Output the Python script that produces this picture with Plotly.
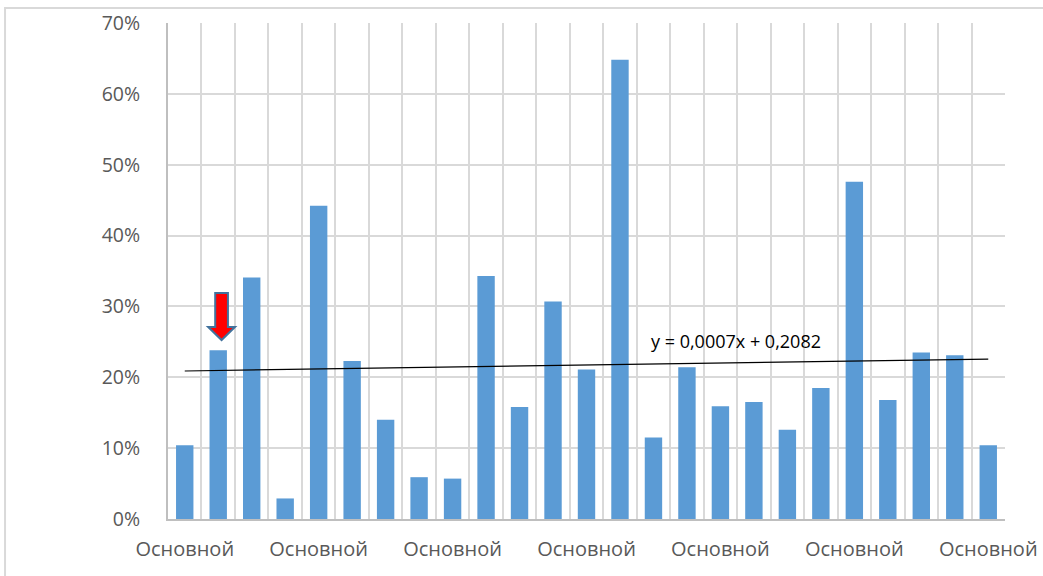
import plotly.graph_objects as go

# ---- data ----
categories = list(range(1, 26))
category_label = "Основной"
values = [0.104, 0.238, 0.341, 0.029, 0.442, 0.223, 0.140, 0.059, 0.057, 0.343,
          0.158, 0.307, 0.211, 0.648, 0.115, 0.214, 0.159, 0.165, 0.126, 0.185,
          0.476, 0.168, 0.235, 0.231, 0.104]
trend_slope = 0.0007
trend_intercept = 0.2082
trend_text = "y = 0,0007x + 0,2082"
y_ticks = [0, 0.1, 0.2, 0.3, 0.4, 0.5, 0.6, 0.7]
highlight_index = 2  # category marked by the red arrow

BAR = "#5b9bd5"
GRID = "#d9d9d9"
TXT = "#595959"
FONT = "Open Sans"

fig = go.Figure()
fig.add_trace(go.Bar(x=categories, y=values, marker=dict(color=BAR, line=dict(width=0)),
                     width=0.52, showlegend=False, hoverinfo="y"))

trend_y = [trend_slope * c + trend_intercept for c in categories]
fig.add_trace(go.Scatter(x=[categories[0], categories[-1]], y=[trend_y[0], trend_y[-1]],
                         mode="lines", line=dict(color="black", width=1.2),
                         showlegend=False, hoverinfo="skip"))

fig.add_annotation(x=17.47, y=0.251, xref="x", yref="y", text=trend_text, showarrow=False,
                   font=dict(family=FONT, size=18, color="black"))

# red block arrow above highlighted bar
cx = highlight_index + 0.1
sw, hw = 0.19, 0.40
y_top, y_base, y_tip = 0.319, 0.271, 0.2526
path = (f"M {cx-sw},{y_top} L {cx+sw},{y_top} L {cx+sw},{y_base} L {cx+hw},{y_base} "
        f"L {cx},{y_tip} L {cx-hw},{y_base} L {cx-sw},{y_base} Z")
fig.add_shape(type="path", path=path, xref="x", yref="y", fillcolor="#ff0000",
              line=dict(color="#41719c", width=2))

# chart-area border
fig.add_shape(type="rect", xref="paper", yref="paper", x0=-0.1947, x1=1.2, y0=-0.2, y1=1.0302,
              line=dict(color=GRID, width=2), fillcolor="rgba(0,0,0,0)", layer="below")

tick_positions = categories[::4]
fig.update_layout(
    width=1043, height=576,
    margin=dict(l=168, r=38, t=23, b=57),
    paper_bgcolor="white", plot_bgcolor="white",
    font=dict(family=FONT, color=TXT),
    bargap=0.48,
    xaxis=dict(range=[0.5, 25.5], tickmode="array", tickvals=tick_positions,
               ticktext=[category_label] * len(tick_positions), automargin=False,
               showgrid=False, zeroline=False, showline=True, linecolor="#bfbfbf", linewidth=2,
               ticks="", tickfont=dict(size=20, color=TXT), ticklabelstandoff=11,
               minor=dict(tickvals=[c + 0.5 for c in categories], showgrid=True,
                          gridcolor=GRID, gridwidth=2, ticks="")),
    yaxis=dict(range=[0, 0.7], tickvals=y_ticks, tickformat=".0%", showgrid=True,
               gridcolor=GRID, gridwidth=2, zeroline=False, showline=True, automargin=False,
               linecolor="#bfbfbf", linewidth=2, ticks="",
               tickfont=dict(size=19.5, color=TXT), ticklabelstandoff=22),
)

fig.write_html("out.html")
